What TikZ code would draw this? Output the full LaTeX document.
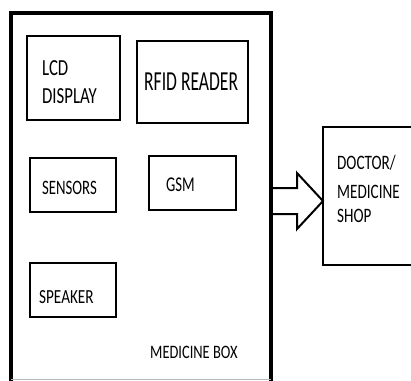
\documentclass[tikz,border=0pt]{standalone}
\usepackage{fontspec}
\setmainfont{Carlito}
\begin{document}
\begin{tikzpicture}[x=1pt,y=-1pt,
  part/.style={draw,line width=2.6pt},
  lbl/.style 2 args={font=\fontsize{#1}{#1}\selectfont,inner sep=0pt,anchor=base west,xscale=#2},
  outer/.style={draw,line width=3.8pt}]
\useasboundingbox (0,0) rectangle (411,380);
% enclosure, its lower edge just at the border
\draw[outer] (11,383) -- (11,13) -- (271,13) -- (271,383);
\draw[gray!55,line width=1pt] (11,379.5) -- (271,379.5);
% modules
\draw[part] (27,36) rectangle (120,120);
\node[lbl={23}{0.73}] (lcd1) at (42,75) {LCD};
\node[lbl={23}{0.73}] (lcd2) at (42,103) {DISPLAY};
\draw[part] (137,41) rectangle (248,123);
\node[lbl={27.5}{0.64}] (rfid) at (144,90) {RFID READER};
\draw[part] (30,158) rectangle (116,212);
\node[lbl={20.5}{0.72}] (sens) at (42,194) {SENSORS};
\draw[part] (149,156) rectangle (236,210);
\node[lbl={21}{0.7}] (gsm) at (166,191) {GSM};
\draw[part] (30,263) rectangle (116,317);
\node[lbl={20}{0.76}] (spk) at (39,303) {SPEAKER};
\node[lbl={19}{0.76}] (mbox) at (150,358) {MEDICINE BOX};
% block arrow
\draw[line width=2pt,line join=miter,fill=white] (273,188) -- (297,188) -- (297,173) -- (323,201) -- (297,229) -- (297,214) -- (273,214);
% destination
\draw[line width=2.4pt] (414,127) -- (323,127) -- (323,265) -- (414,265);
\node[lbl={20.5}{0.74}] (d1) at (337,169) {DOCTOR/};
\node[lbl={20.5}{0.74}] (d2) at (337,198) {MEDICINE};
\node[lbl={20.5}{0.74}] (d3) at (337,222) {SHOP};
\end{tikzpicture}
\end{document}
